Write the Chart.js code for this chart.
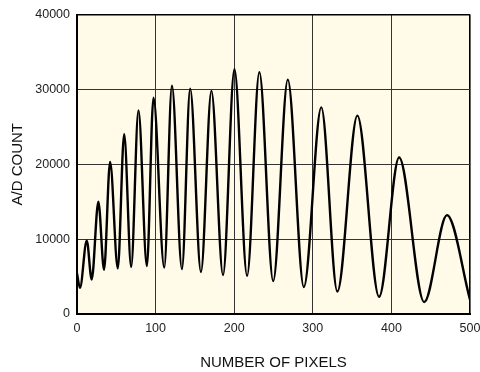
<!DOCTYPE html>
<html>
<head>
<meta charset="utf-8">
<script src="https://cdn.jsdelivr.net/npm/chart.js@4.4.1/dist/chart.umd.min.js"></script>
<style>
  html, body { margin: 0; padding: 0; background: #ffffff; }
  #wrap { width: 480px; height: 372px; }
</style>
</head>
<body>
<div id="wrap"><canvas id="chart" width="480" height="372"></canvas></div>
<script>
'use strict'

// peaks and troughs
const pixels = [0, 3.8, 12.4, 18.7, 27.2, 34.4, 42.1, 51.9, 60, 68.9, 78.2, 88.9, 97.3, 111, 120.8, 133.5, 144, 157.7, 171, 185.8, 200.3, 216.4, 232, 249.6, 268.2, 288.6, 310.8, 331.2, 356.7, 384.3, 409.8, 441.7, 470.7, 500]
const counts = [5400, 3500, 9800, 4600, 15000, 5900, 20300, 6100, 24000, 6300, 27200, 6400, 28900, 6200, 30500, 6000, 30100, 5600, 29800, 5200, 32700, 5100, 32300, 4400, 31300, 3600, 27600, 3000, 26500, 2300, 20900, 1600, 13200, 1900]

const xTitle = 'NUMBER OF PIXELS'
const yTitle = 'A/D COUNT'

const tickFont = {
  color: '#222222',
  font: { family: 'Liberation Sans', size: 12.5 },
  callback: (v) => String(v)
}

const plotBg = {
  id: 'plotBg',
  beforeDraw(chart) {
    const { ctx, chartArea: a } = chart
    ctx.save()
    ctx.fillStyle = '#fffbe8'
    ctx.fillRect(a.left, a.top, a.right - a.left, a.bottom - a.top)
    ctx.restore()
  }
}

// outer frame lines (top / right) a bit heavier than the inner grid
const edgeWidth = (max) => (c) => (c.tick && c.tick.value === max ? 1.6 : 1)
const edgeColor = (max) => (c) => (c.tick && c.tick.value === max ? '#000000' : '#333333')

new Chart(document.getElementById('chart'), {
  type: 'line',
  data: {
    datasets: [
      {
        data: pixels.map((x, i) => ({ x, y: counts[i] })),
        borderColor: '#000000',
        borderWidth: 2.4,
        pointRadius: 0,
        fill: false,
        cubicInterpolationMode: 'monotone'
      }
    ]
  },
  options: {
    responsive: false,
    animation: false,
    layout: {
      padding: { top: 14, right: 10, left: 0, bottom: 0 }
    },
    scales: {
      x: {
        type: 'linear',
        min: 0,
        max: 500,
        afterFit: (s) => {
          s.height = 58
          s.paddingRight = 0
          s.paddingLeft = 0
        },
        grid: { color: edgeColor(500), lineWidth: edgeWidth(500), drawTicks: false },
        border: { color: '#000000', width: 2 },
        ticks: { ...tickFont, stepSize: 100, padding: 7, maxRotation: 0 },
        title: {
          display: true,
          text: xTitle,
          color: '#111111',
          font: { family: 'Liberation Sans', size: 15 },
          padding: { top: 0, bottom: 0 }
        }
      },
      y: {
        min: 0,
        max: 40000,
        afterFit: (s) => { s.width = 77 },
        grid: { color: edgeColor(40000), lineWidth: edgeWidth(40000), drawTicks: false },
        border: { color: '#000000', width: 2 },
        ticks: { ...tickFont, stepSize: 10000, padding: 7 },
        title: {
          display: true,
          text: yTitle,
          color: '#111111',
          font: { family: 'Liberation Sans', size: 15 },
          padding: { top: 8.5, bottom: 0 }
        }
      }
    },
    plugins: {
      legend: { display: false },
      tooltip: { enabled: false }
    }
  },
  plugins: [plotBg]
})
</script>
</body>
</html>
